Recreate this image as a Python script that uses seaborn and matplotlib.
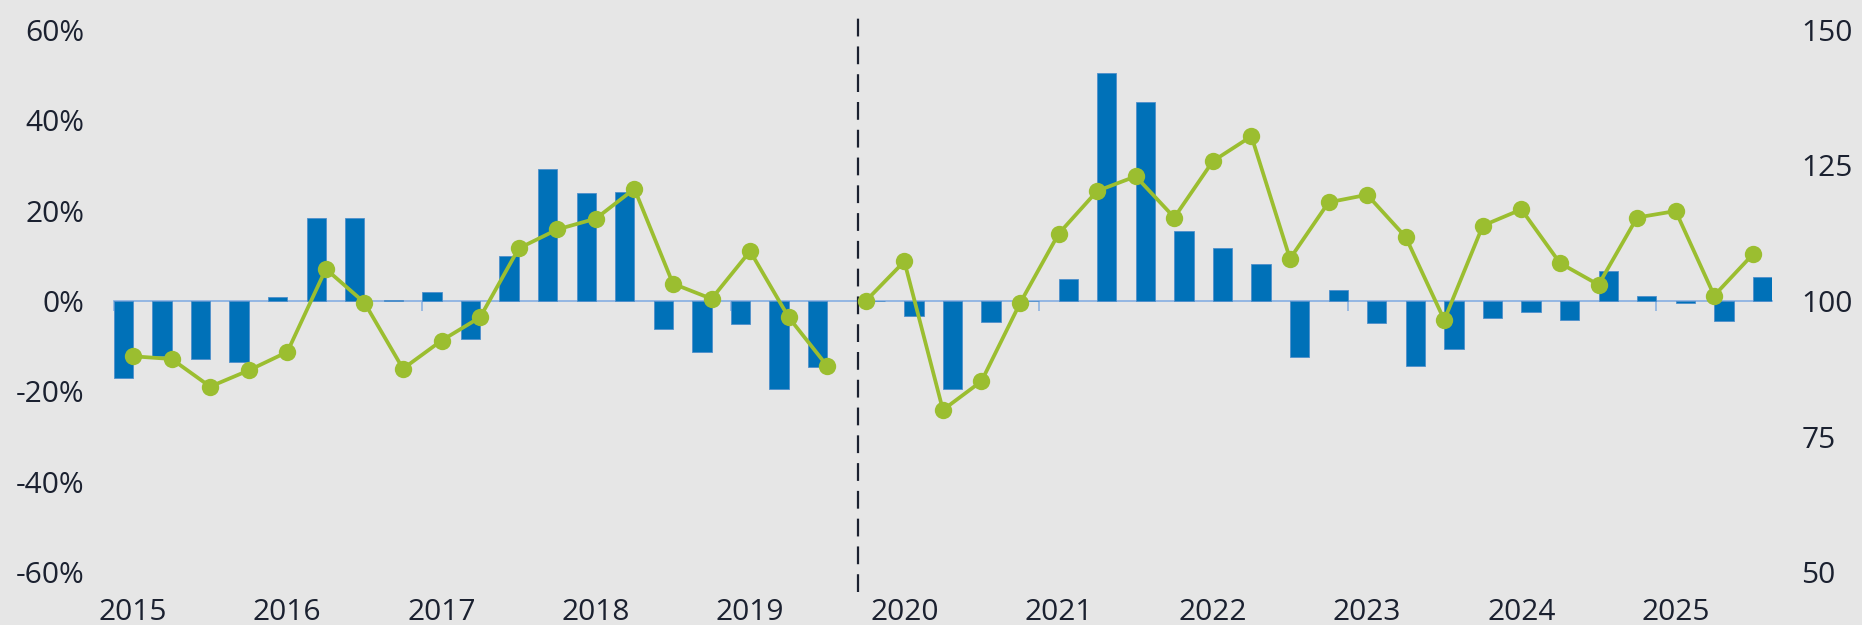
#!/usr/bin/env python3
"""Quarterly change (bars, left axis) and index level (line, right axis), 2015-2025."""
import pandas as pd
import seaborn as sns
import matplotlib.pyplot as plt
from matplotlib.ticker import FuncFormatter

# quarters 2015Q1 .. 2025Q3 (43 positions)
QUARTERS = [f"{y}Q{q}" for y in range(2015, 2026) for q in range(1, 5)][:43]

# bars: change in % (left axis); pre-break and post-break series
CHANGE_PRE = [-17.0, -12.2, -12.9, -13.5, 0.8, 18.4, 18.3, 0.2, 2.1, -8.4,
              9.9, 29.3, 24.0, 24.1, -6.2, -11.3, -5.1, -19.4, -14.7]
CHANGE_POST = [0.0, -3.4, -19.4, -4.7, 0.0, 4.8, 50.5, 44.0, 15.5, 11.8,
               8.3, -12.4, 2.4, -4.9, -14.4, -10.6, -3.7, -2.4, -4.2, 6.6,
               1.1, -0.4, -4.5, 5.3]

# line: index level (right axis)
INDEX_PRE = [89.8, 89.3, 84.2, 87.2, 90.6, 105.9, 99.7, 87.5, 92.7, 97.0,
             109.7, 113.2, 115.2, 120.7, 103.2, 100.4, 109.2, 97.0, 88.0]
INDEX_POST = [100.0, 107.3, 79.9, 85.2, 99.6, 112.4, 120.3, 123.0, 115.4, 125.8,
              130.4, 107.8, 118.2, 119.6, 111.8, 96.5, 113.9, 116.9, 107.0, 103.0,
              115.4, 116.6, 101.0, 108.6]

YEAR_LABELS = [str(y) for y in range(2015, 2026)]
LEFT_TICKS = [-60, -40, -20, 0, 20, 40, 60]
RIGHT_TICKS = [50, 75, 100, 125, 150]
BREAK_AT = 18.8  # position of dashed separator (in quarter units)

BLUE = '#0071B8'
GREEN = '#9BBE30'
BG = '#E6E6E6'
TXT = '#1B2130'
AXLINE = '#8DB3E2'

sns.set_theme(style="white")
plt.rcParams['font.family'] = ['Open Sans', 'DejaVu Sans']

n_pre = len(CHANGE_PRE)
bars = pd.DataFrame({
    'quarter': QUARTERS,
    'change': CHANGE_PRE + CHANGE_POST,
    'period': ['pre'] * n_pre + ['post'] * len(CHANGE_POST),
})
line = pd.DataFrame({
    'pos': list(range(len(QUARTERS))),
    'index': INDEX_PRE + INDEX_POST,
    'segment': ['pre'] * len(INDEX_PRE) + ['post'] * len(INDEX_POST),
})

fig = plt.figure(figsize=(18.62, 6.25), dpi=100, facecolor=BG)
ax = fig.add_axes([0.0611, 0.0848, 0.8906, 0.8672])
ax.set_facecolor(BG)

sns.barplot(data=bars, x='quarter', y='change', hue='period', order=QUARTERS,
            hue_order=['pre', 'post'], palette=[BLUE, BLUE], saturation=1,
            width=1.0, dodge=True, edgecolor='#4F8FCB', linewidth=0.6,
            legend=False, ax=ax)

ax.set_xlim(-0.5, len(QUARTERS) - 0.5)
ax.set_ylim(-60, 60)
ax.set_yticks(LEFT_TICKS)
ax.yaxis.set_major_formatter(FuncFormatter(lambda v, p: f"{v:.0f}%"))
ax.set_xticks(range(0, len(QUARTERS), 4))
ax.set_xticklabels(YEAR_LABELS)
ax.set_xlabel('')
ax.set_ylabel('')
ax.tick_params(axis='y', length=0, pad=21, labelsize=21.5, labelcolor=TXT)
ax.tick_params(axis='x', length=0, pad=19, labelsize=21.5, labelcolor=TXT)
for s in ax.spines.values():
    s.set_visible(False)

# zero line with small category ticks every 8 quarters
zero = ax.secondary_xaxis(0.5)
zero.set_xticks([p - 0.5 for p in range(0, len(QUARTERS), 8)])
zero.set_xticklabels([])
zero.xaxis.set_ticks_position('bottom')
zero.tick_params(axis='x', direction='out', length=7, width=1.2, color=AXLINE)
for side in ('top', 'bottom'):
    zero.spines[side].set_color(AXLINE)
    zero.spines[side].set_linewidth(1.3)
for side in ('left', 'right'):
    zero.spines[side].set_visible(False)

# dashed separator between the two periods
ax.axvline(BREAK_AT, ymin=-0.037, ymax=1.035, clip_on=False, color=TXT,
           linestyle=(0, (8, 4.5)), linewidth=1.6)

ax2 = ax.twinx()
sns.lineplot(data=line, x='pos', y='index', units='segment', estimator=None,
             color=GREEN, linewidth=2.7, marker='o', markersize=12.5,
             markeredgewidth=0, ax=ax2)
ax2.set_ylim(50, 150)
ax2.set_yticks(RIGHT_TICKS)
ax2.set_ylabel('')
ax2.tick_params(axis='y', length=0, pad=21, labelsize=21.5, labelcolor=TXT)
for s in ax2.spines.values():
    s.set_visible(False)

fig.savefig('out.png', dpi=100, facecolor=BG)
